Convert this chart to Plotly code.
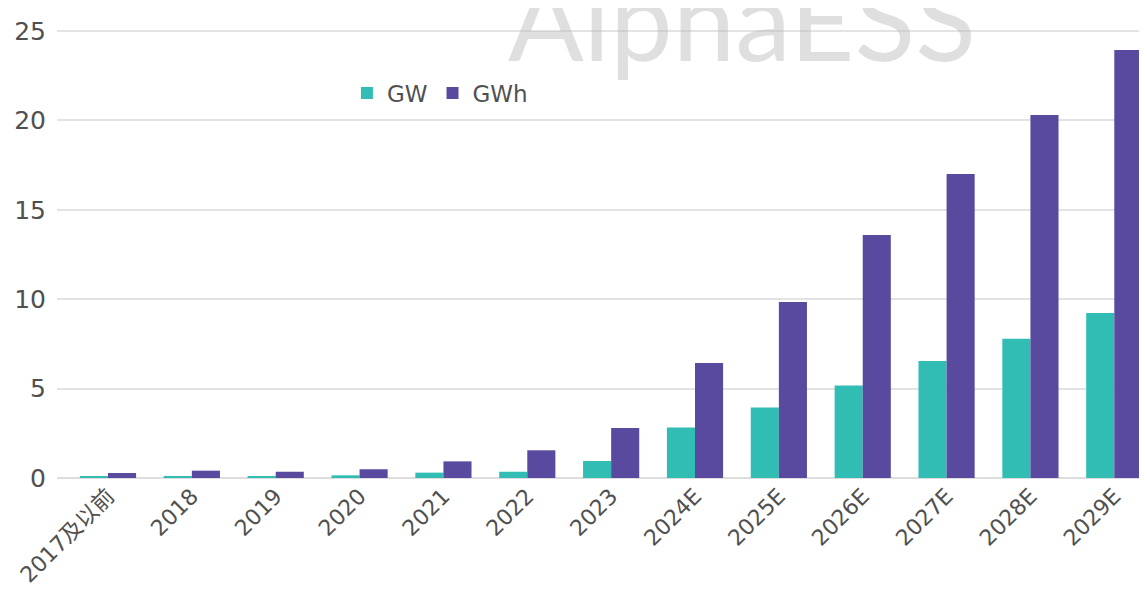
import plotly.graph_objects as go

categories = ["2017及以前", "2018", "2019", "2020", "2021", "2022", "2023",
              "2024E", "2025E", "2026E", "2027E", "2028E", "2029E"]
gw = [0.08, 0.08, 0.1, 0.15, 0.3, 0.35, 0.95, 2.83, 3.95, 5.18, 6.54, 7.79, 9.23]
gwh = [0.28, 0.41, 0.35, 0.49, 0.93, 1.55, 2.8, 6.43, 9.84, 13.59, 17.0, 20.3, 23.94]

teal = "#31BDB4"
purple = "#5A4A9F"
font_family = "DejaVu Sans, Noto Sans CJK SC, sans-serif"
text_color = "#505050"

fig = go.Figure()
fig.add_trace(go.Bar(x=categories, y=gw, name="GW", marker=dict(color=teal, line=dict(width=0))))
fig.add_trace(go.Bar(x=categories, y=gwh, name="GWh", marker=dict(color=purple, line=dict(width=0))))

# faint watermark, cut off at the top like the source
fig.add_annotation(text="AlphaESS", xref="paper", yref="paper", x=0.628, y=1.0,
                   yanchor="middle", yshift=-9, showarrow=False,
                   font=dict(size=112, color="rgba(185,185,185,0.45)", family="Lato, sans-serif"))

fig.update_layout(
    width=1147, height=607,
    margin=dict(l=49, r=8, t=0, b=137, autoexpand=False),
    paper_bgcolor="white", plot_bgcolor="white",
    barmode="group", bargap=0.33, bargroupgap=0,
    font=dict(family=font_family, color=text_color),
    showlegend=True,
    legend=dict(orientation="h", x=0.266, y=0.819, xanchor="left", yanchor="middle",
                font=dict(size=23, color=text_color), bgcolor="rgba(0,0,0,0)",
                itemwidth=30, tracegroupgap=0),
    xaxis=dict(range=[-0.608, 12.39], tickangle=-45, tickfont=dict(size=22, color=text_color),
               showgrid=False, showline=False, ticks="", automargin=False),
    yaxis=dict(range=[0, 26.29], tickvals=[0, 5, 10, 15, 20, 25], tickfont=dict(size=25, color=text_color),
               showgrid=True, gridcolor="#E3E3E3", gridwidth=2, zeroline=True, zerolinecolor="#DDDDDD",
               zerolinewidth=2, ticks="", ticklabelstandoff=10, automargin=False),
)

fig.write_html("out.html")
